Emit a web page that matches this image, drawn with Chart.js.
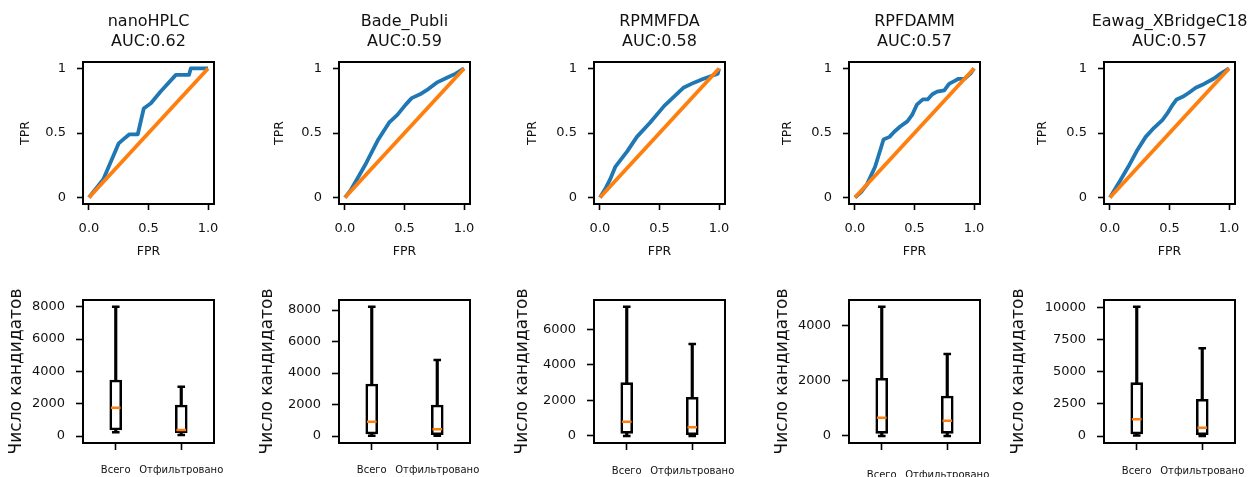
<!DOCTYPE html>
<html>
<head>
<meta charset="utf-8">
<script src="https://cdn.jsdelivr.net/npm/chart.js@4.4.1/dist/chart.umd.min.js"></script>
<style>
  html, body { margin: 0; padding: 0; background: #fff; }
  body { width: 1250px; height: 477px; overflow: hidden; position: relative; }
  canvas { position: absolute; }
</style>
</head>
<body>
<script>
// ===== DATA =====
const datasetNames = ["nanoHPLC", "Bade_Publi", "RPMMFDA", "RPFDAMM", "Eawag_XBridgeC18"];
const aucValues = ["0.62", "0.59", "0.58", "0.57", "0.57"];

// ROC curves (FPR / TPR)
const fprNanoHPLC = [0, 0.12, 0.25, 0.30, 0.34, 0.41, 0.46, 0.52, 0.60, 0.73, 0.84, 0.855, 1];
const tprNanoHPLC = [0, 0.14, 0.42, 0.46, 0.49, 0.49, 0.69, 0.73, 0.82, 0.95, 0.95, 1, 1];
const fprBade = [0, 0.05, 0.10, 0.18, 0.28, 0.37, 0.44, 0.51, 0.56, 0.63, 0.70, 0.77, 0.86, 0.93, 1];
const tprBade = [0, 0.06, 0.14, 0.27, 0.45, 0.58, 0.64, 0.72, 0.77, 0.80, 0.84, 0.89, 0.93, 0.96, 1];
const fprRPMMFDA = [0, 0.04, 0.085, 0.13, 0.23, 0.31, 0.42, 0.54, 0.62, 0.70, 0.79, 0.87, 0.93, 0.99, 1];
const tprRPMMFDA = [0, 0.06, 0.14, 0.24, 0.36, 0.47, 0.58, 0.71, 0.78, 0.85, 0.89, 0.92, 0.94, 0.96, 1];
const fprRPFDAMM = [0, 0.05, 0.10, 0.17, 0.24, 0.29, 0.33, 0.38, 0.44, 0.48, 0.52, 0.57, 0.61, 0.65, 0.69, 0.75, 0.79, 0.83, 0.87, 0.92, 0.97, 1];
const tprRPFDAMM = [0, 0.04, 0.10, 0.24, 0.45, 0.47, 0.51, 0.55, 0.59, 0.64, 0.72, 0.76, 0.76, 0.80, 0.82, 0.83, 0.88, 0.90, 0.92, 0.92, 0.96, 1];
const fprEawag = [0, 0.085, 0.155, 0.225, 0.30, 0.37, 0.44, 0.48, 0.52, 0.56, 0.61, 0.66, 0.72, 0.79, 0.87, 0.93, 1];
const tprEawag = [0, 0.13, 0.24, 0.36, 0.47, 0.54, 0.60, 0.65, 0.71, 0.76, 0.78, 0.81, 0.85, 0.88, 0.92, 0.96, 1];

const rocFpr = [fprNanoHPLC, fprBade, fprRPMMFDA, fprRPFDAMM, fprEawag];
const rocTpr = [tprNanoHPLC, tprBade, tprRPMMFDA, tprRPFDAMM, tprEawag];
const diagX = [0, 1];
const diagY = [0, 1];
const rocTicksX = [0, 0.5, 1];
const rocTicksY = [0, 0.5, 1];

// Box plots: [Всего, Отфильтровано] for each dataset
const boxCategories = ["Всего", "Отфильтровано"];
const whiskerLow  = [[230, 60], [20, 10], [0, 0], [0, 0], [30, 0]];
const quart1      = [[370, 200], [127, 85], [150, 75], [97, 97], [156, 104]];
const medians     = [[1750, 370], [910, 423], [806, 488], [667, 558], [1299, 649]];
const quart3      = [[3465, 1918], [3302, 1968], [3000, 2175], [2097, 1455], [4156, 2857]];
const whiskerHigh = [[8000, 3052], [8212, 4825], [7275, 5175], [4703, 2982], [10078, 6831]];
const boxTicks = [
    [0, 2000, 4000, 6000, 8000],
    [0, 2000, 4000, 6000, 8000],
    [0, 2000, 4000, 6000],
    [0, 2000, 4000],
    [0, 2500, 5000, 7500, 10000]
];
const boxYMin = [-433, -444, -394, -255, -545];
const boxYMax = [8414, 8635, 7650, 4945, 10600];

// ===== LAYOUT =====
const FONT = "'DejaVu Sans', sans-serif";
const BLUE = "#1f77b4";
const ORANGE = "#ff7f0e";
const TEXT = "#111";
const frameLeft = [83, 339, 594, 849, 1104];
const tprTitlePad = [25.5, 23.5, 21.5, 21.5, 21.5];
const countTitlePad = [23.8, 18.8, 18.8, 23.8, 4.8];
const catTickPad = [14.6, 14.6, 15, 19.6, 15];

const framePlugin = {
    id: "frame",
    afterDatasetsDraw(chart) {
        const { ctx, chartArea: a } = chart;
        ctx.save();
        ctx.strokeStyle = "#000";
        ctx.lineWidth = 2;
        ctx.strokeRect(a.left, a.top, a.right - a.left, a.bottom - a.top);
        ctx.restore();
    }
};

function fix(prop, size) {
    return s => {
        s[prop] = size;
        s.paddingTop = s.paddingBottom = s.paddingLeft = s.paddingRight = 0;
    };
}

function addCanvas(left, top, w, h) {
    const c = document.createElement("canvas");
    c.width = w; c.height = h;
    c.style.left = left + "px";
    c.style.top = top + "px";
    c.style.width = w + "px";
    c.style.height = h + "px";
    document.body.appendChild(c);
    return c;
}

const toPoints = (xs, ys) => xs.map((x, k) => ({ x: x, y: ys[k] }));
const tickGrid = len => ({ drawOnChartArea: false, drawTicks: true, tickLength: len, tickColor: "#000", tickWidth: 1.6 });

// ===== ROC (top row) =====
function makeRoc(i) {
    // canvas symmetric around the frame so the title centres over it
    const canvas = addCanvas(frameLeft[i] - 90, 0, 311, 270);
    new Chart(canvas, {
        type: "scatter",
        data: {
            datasets: [
                { data: toPoints(diagX, diagY), borderColor: ORANGE, borderWidth: 3.8, showLine: true, pointRadius: 0, order: 0 },
                { data: toPoints(rocFpr[i], rocTpr[i]), borderColor: BLUE, borderWidth: 3.8, borderJoinStyle: "round", showLine: true, pointRadius: 0, order: 1 }
            ]
        },
        options: {
            responsive: false, animation: false, events: [], devicePixelRatio: 1,
            layout: { padding: 0 },
            plugins: {
                legend: { display: false },
                tooltip: { enabled: false },
                title: {
                    display: true, color: TEXT,
                    text: [datasetNames[i], "AUC:" + aucValues[i]],
                    font: { family: FONT, size: 16, weight: "normal", lineHeight: 1.25 },
                    padding: { top: 12, bottom: 10 }
                }
            },
            scales: {
                x: {
                    type: "linear", min: -0.05, max: 1.05,
                    afterFit: fix("height", 66),
                    afterBuildTicks: s => { s.ticks = rocTicksX.map(v => ({ value: v })); },
                    grid: tickGrid(6), border: { display: false },
                    ticks: { padding: 11, color: TEXT, maxRotation: 0, font: { family: FONT, size: 13 }, callback: v => v.toFixed(1) },
                    title: { display: true, text: "FPR", color: TEXT, font: { family: FONT, size: 12.5 }, padding: { top: 0, bottom: 11 } }
                },
                y: {
                    type: "linear", min: -0.05, max: 1.05,
                    afterFit: fix("width", 90),
                    afterBuildTicks: s => { s.ticks = rocTicksY.map(v => ({ value: v })); },
                    grid: tickGrid(6), border: { display: false },
                    ticks: { padding: 11, color: TEXT, font: { family: FONT, size: 13 }, callback: v => String(v) },
                    title: { display: true, text: "TPR", color: TEXT, font: { family: FONT, size: 12.5 }, padding: { top: tprTitlePad[i], bottom: 0 } }
                },
                // empty spacer on the right, mirrors the left axis width
                yRight: {
                    type: "linear", position: "right", display: true,
                    afterFit: fix("width", 90),
                    grid: { display: false }, border: { display: false }, ticks: { display: false }
                }
            }
        },
        plugins: [framePlugin]
    });
}

// ===== BOX PLOTS (bottom row) =====
function makeBox(i) {
    const canvas = addCanvas(frameLeft[i] - 100, 280, 245, 200);
    const capStyle = { type: "line", showLine: false, pointStyle: "line", pointRadius: 3.8, borderColor: "#000", pointBorderColor: "#000", pointBorderWidth: 2.5, borderWidth: 2.5, order: 1 };
    const stemStyle = { type: "bar", backgroundColor: "#000", borderWidth: 0, barThickness: 2.5, grouped: false, order: 3 };

    new Chart(canvas, {
        type: "bar",
        data: {
            labels: boxCategories,
            datasets: [
                { type: "line", data: medians[i], showLine: false, pointStyle: "line", pointRadius: 4.8, borderColor: ORANGE, pointBorderColor: ORANGE, pointBorderWidth: 2.5, borderWidth: 2.5, order: 0 },
                Object.assign({ data: whiskerHigh[i] }, capStyle),
                Object.assign({ data: whiskerLow[i] }, capStyle),
                { type: "bar", data: quart1[i].map((q, k) => [q, quart3[i][k]]), backgroundColor: "#fff", borderColor: "#000", borderWidth: 2.6, borderSkipped: false, barThickness: 12, grouped: false, order: 2 },
                Object.assign({ data: quart3[i].map((q, k) => [q, whiskerHigh[i][k]]) }, stemStyle),
                Object.assign({ data: whiskerLow[i].map((w, k) => [w, quart1[i][k]]) }, stemStyle)
            ]
        },
        options: {
            responsive: false, animation: false, events: [], devicePixelRatio: 1,
            layout: { padding: { left: 0, right: 14, top: 20, bottom: 0 } },
            plugins: { legend: { display: false }, tooltip: { enabled: false } },
            scales: {
                x: {
                    type: "category", offset: true,
                    afterFit: fix("height", 37),
                    grid: Object.assign(tickGrid(7), { offset: false }), border: { display: false },
                    ticks: { padding: catTickPad[i], color: TEXT, maxRotation: 0, autoSkip: false, font: { family: FONT, size: 10 } }
                },
                y: {
                    type: "linear", min: boxYMin[i], max: boxYMax[i],
                    afterFit: fix("width", 100),
                    afterBuildTicks: s => { s.ticks = boxTicks[i].map(v => ({ value: v })); },
                    grid: tickGrid(7), border: { display: false },
                    ticks: { padding: 11, color: TEXT, font: { family: FONT, size: 13 }, callback: v => String(v) },
                    title: { display: true, text: "Число кандидатов", color: TEXT, font: { family: FONT, size: 17 }, padding: { top: countTitlePad[i], bottom: 0 } }
                }
            }
        },
        plugins: [framePlugin]
    });
}

for (let i = 0; i < datasetNames.length; i++) {
    makeRoc(i);
    makeBox(i);
}
</script>
</body>
</html>
